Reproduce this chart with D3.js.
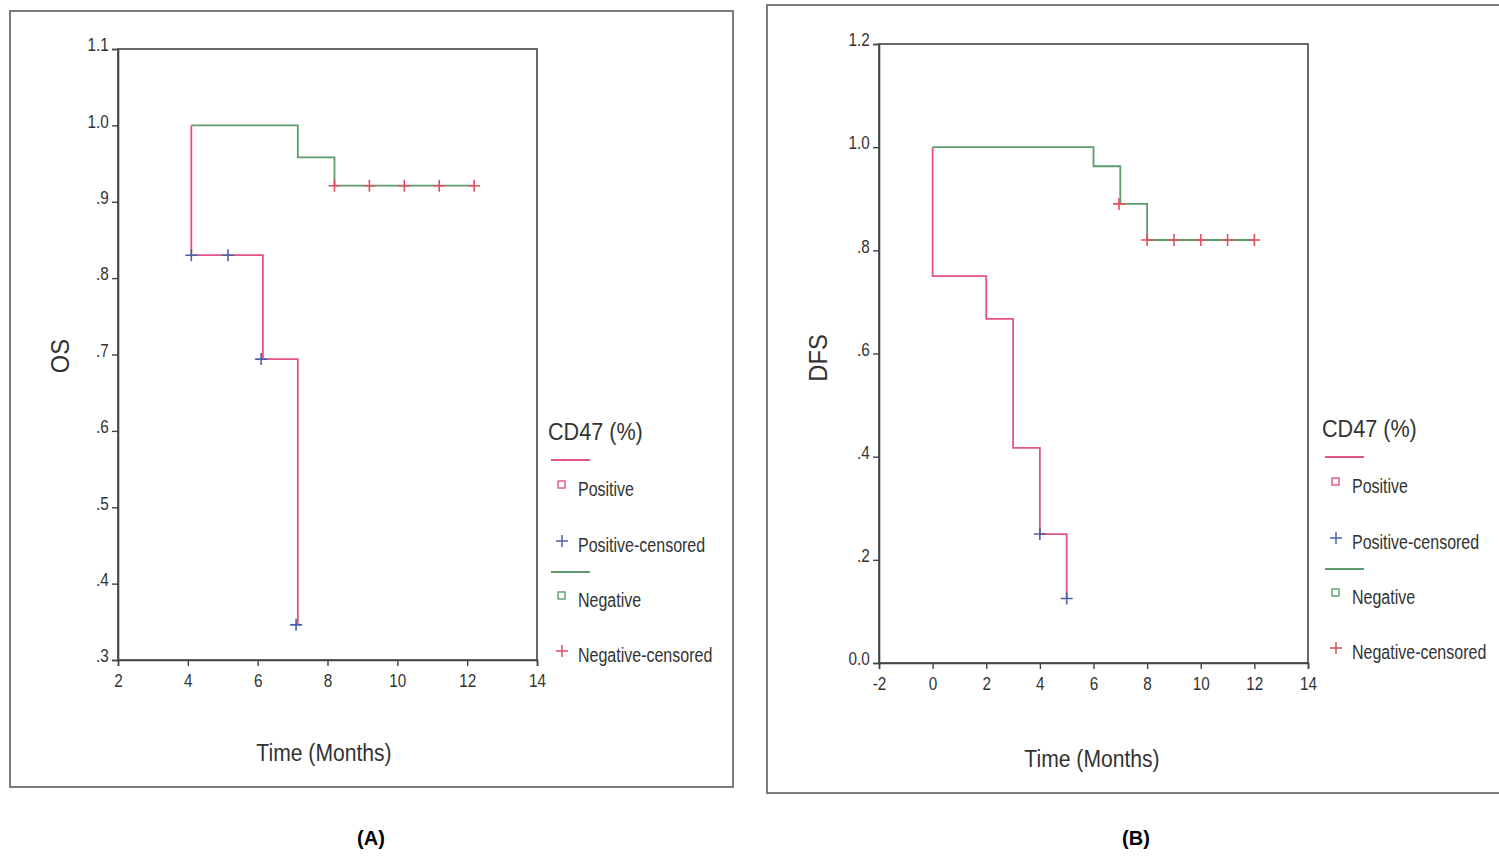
<!DOCTYPE html>
<html>
<head>
<meta charset="utf-8">
<script src="https://cdn.jsdelivr.net/npm/d3@7"></script>
<style>
    body { margin: 0; background: #fff; }
    svg { display: block; }
    .tick text { font-family: "Liberation Sans", Arial, sans-serif; font-size: 18px; fill: #333; }
    .lbl { font-family: "Liberation Sans", Arial, sans-serif; fill: #333; }
</style>
</head>
<body>
<svg id="chart" width="1499" height="856"></svg>
<script>
//  Panel A (OS) ---
var osPosTime = [4.1, 4.1, 6.15, 7.15];
var osPosSurv = [1.0, 0.83, 0.694, 0.346];
var osPosCensTime = [4.1, 5.15, 6.1, 7.1];
var osPosCensSurv = [0.83, 0.83, 0.694, 0.346];
var osNegTime = [4.1, 7.15, 8.2, 12.2];
var osNegSurv = [1.0, 0.958, 0.921, 0.921];
var osNegCensTime = [8.2, 9.2, 10.2, 11.2, 12.2];
var osNegCensSurv = [0.921, 0.921, 0.921, 0.921, 0.921];
var osXTicks = [2, 4, 6, 8, 10, 12, 14];
var osYTicks = [0.3, 0.4, 0.5, 0.6, 0.7, 0.8, 0.9, 1.0, 1.1];
var osYLabels = [".3", ".4", ".5", ".6", ".7", ".8", ".9", "1.0", "1.1"];

//  Panel B (DFS) ---
var dfsPosTime = [0, 0, 2, 3, 4, 5];
var dfsPosSurv = [1.0, 0.75, 0.667, 0.417, 0.25, 0.125];
var dfsPosCensTime = [4, 5];
var dfsPosCensSurv = [0.25, 0.125];
var dfsNegTime = [0, 6, 7, 8, 12];
var dfsNegSurv = [1.0, 0.963, 0.89, 0.82, 0.82];
var dfsNegCensTime = [6.95, 8, 9, 10, 11, 12];
var dfsNegCensSurv = [0.89, 0.82, 0.82, 0.82, 0.82, 0.82];
var dfsXTicks = [-2, 0, 2, 4, 6, 8, 10, 12, 14];
var dfsYTicks = [0, 0.2, 0.4, 0.6, 0.8, 1.0, 1.2];
var dfsYLabels = ["0.0", ".2", ".4", ".6", ".8", "1.0", "1.2"];

var legendTitle = "CD47 (%)";
var legendItems = ["Positive", "Positive-censored", "Negative", "Negative-censored"];

var colPos = "#e2538a", colNeg = "#5c9c6c", colPosCens = "#4a62a6", colNegCens = "#e0505e";

var zip = function (a, b) { return a.map(function (v, i) { return [v, b[i]]; }); };

var panels = [
    {
        frame: [10, 11, 733, 787], plot: { left: 118, top: 49, right: 537, bottom: 660 },
        xDomain: [2, 14], yDomain: [0.3, 1.1], xTicks: osXTicks, yTicks: osYTicks, yLabels: osYLabels,
        pos: zip(osPosTime, osPosSurv), posCens: zip(osPosCensTime, osPosCensSurv),
        neg: zip(osNegTime, osNegSurv), negCens: zip(osNegCensTime, osNegCensSurv),
        yTitle: "OS", yTitlePos: [69, 356], xTitlePos: [324, 761],
        legend: [548, 440], caption: "(A)", captionPos: [371, 845]
    },
    {
        frame: [767, 5, 1506, 793], plot: { left: 879, top: 44, right: 1308, bottom: 663 },
        xDomain: [-2, 14], yDomain: [0, 1.2], xTicks: dfsXTicks, yTicks: dfsYTicks, yLabels: dfsYLabels,
        pos: zip(dfsPosTime, dfsPosSurv), posCens: zip(dfsPosCensTime, dfsPosCensSurv),
        neg: zip(dfsNegTime, dfsNegSurv), negCens: zip(dfsNegCensTime, dfsNegCensSurv),
        yTitle: "DFS", yTitlePos: [827, 358], xTitlePos: [1092, 767],
        legend: [1322, 437], caption: "(B)", captionPos: [1136, 845]
    }
];

var svg = d3.select("#chart");

// squeezed text, the scan has a narrow sans
function narrowText(sel, tx, ty, size, sx, str, anchor, rot) {
    return sel.append("text").attr("class", "lbl")
        .attr("transform", "translate(" + tx + "," + ty + ")" + (rot ? " rotate(" + rot + ")" : "") + " scale(" + sx + ",1)")
        .attr("text-anchor", anchor || "start")
        .style("font-size", size + "px")
        .text(str);
}

panels.forEach(function (p) {
    var g = svg.append("g");

    //  Outer frame ---
    g.append("rect")
        .attr("x", p.frame[0]).attr("y", p.frame[1])
        .attr("width", p.frame[2] - p.frame[0]).attr("height", p.frame[3] - p.frame[1])
        .attr("fill", "none").attr("stroke", "#7a7a7a").attr("stroke-width", 2)
        ;

    var x = d3.scaleLinear().domain(p.xDomain).range([p.plot.left, p.plot.right]);
    var y = d3.scaleLinear().domain(p.yDomain).range([p.plot.bottom, p.plot.top]);

    //  Plot box ---
    g.append("rect")
        .attr("x", p.plot.left).attr("y", p.plot.top)
        .attr("width", p.plot.right - p.plot.left).attr("height", p.plot.bottom - p.plot.top)
        .attr("fill", "none").attr("stroke", "#444").attr("stroke-width", 1.6)
        ;

    //  Axes ---
    var xAxis = d3.axisBottom(x).tickValues(p.xTicks).tickSize(6).tickPadding(8)
        .tickFormat(function (d) { return String(d); });
    var gx = g.append("g").attr("transform", "translate(0," + p.plot.bottom + ")").call(xAxis);
    var yAxis = d3.axisLeft(y).tickValues(p.yTicks).tickSize(6).tickPadding(5)
        .tickFormat(function (d, i) { return p.yLabels[i]; });
    var gy = g.append("g").attr("transform", "translate(" + p.plot.left + ",0)").call(yAxis);
    [gx, gy].forEach(function (a) {
        a.select(".domain").attr("stroke", "#444").attr("stroke-width", 1.6);
        a.selectAll(".tick line").attr("stroke", "#444").attr("stroke-width", 1.4);
        a.selectAll(".tick text").attr("transform", "scale(0.85,1)");
    });
    gy.selectAll(".tick text").attr("dy", "0.1em");

    //  Step curves ---
    var line = d3.line()
        .x(function (d) { return x(d[0]); })
        .y(function (d) { return y(d[1]); })
        .curve(d3.curveStepAfter);
    g.append("path").datum(p.pos).attr("d", line)
        .attr("fill", "none").attr("stroke", colPos).attr("stroke-width", 1.8);
    g.append("path").datum(p.neg).attr("d", line)
        .attr("fill", "none").attr("stroke", colNeg).attr("stroke-width", 1.8);

    //  Censor marks ---
    var cross = function (sel, data, color) {
        sel.selectAll(null).data(data).enter().append("path")
            .attr("d", function (d) {
                var cx = x(d[0]), cy = y(d[1]);
                return "M" + (cx - 6) + "," + cy + "H" + (cx + 6) + "M" + cx + "," + (cy - 6) + "V" + (cy + 6);
            })
            .attr("stroke", color).attr("stroke-width", 1.6).attr("fill", "none");
    };
    cross(g, p.posCens, colPosCens);
    cross(g, p.negCens, colNegCens);

    //  Axis titles ---
    narrowText(g, p.yTitlePos[0], p.yTitlePos[1], 25, 0.95, p.yTitle, "middle", -90);
    narrowText(g, p.xTitlePos[0], p.xTitlePos[1], 24, 0.88, "Time (Months)", "middle");

    //  Legend ---
    var lg = g.append("g").attr("transform", "translate(" + p.legend[0] + "," + p.legend[1] + ")");
    narrowText(lg, 0, 0, 24, 0.9, legendTitle);
    var rows = [
        { line: colPos, lineY: 20 },
        { mark: "sq", color: colPos, y: 45, label: legendItems[0] },
        { mark: "+", color: colPosCens, y: 101, label: legendItems[1] },
        { line: colNeg, lineY: 132 },
        { mark: "sq", color: colNeg, y: 156, label: legendItems[2] },
        { mark: "+", color: colNegCens, y: 211, label: legendItems[3] }
    ];
    rows.forEach(function (r) {
        if (r.line) {
            lg.append("line").attr("x1", 3).attr("x2", 42).attr("y1", r.lineY).attr("y2", r.lineY)
                .attr("stroke", r.line).attr("stroke-width", 2);
            return;
        }
        if (r.mark === "sq") {
            lg.append("rect").attr("x", 10).attr("y", r.y - 4).attr("width", 7).attr("height", 7)
                .attr("fill", "none").attr("stroke", r.color).attr("stroke-width", 1.4);
        } else {
            lg.append("path").attr("d", "M8," + r.y + "H20M14," + (r.y - 6) + "V" + (r.y + 6))
                .attr("stroke", r.color).attr("stroke-width", 1.5);
        }
        narrowText(lg, 30, r.y + 11, 20, 0.8, r.label);
    });

    //  Caption ---
    svg.append("text")
        .attr("x", p.captionPos[0]).attr("y", p.captionPos[1])
        .attr("text-anchor", "middle")
        .style("font-family", "Liberation Sans, Arial, sans-serif")
        .style("font-weight", "bold").style("font-size", "20px").attr("fill", "#000")
        .text(p.caption);
});
</script>
</body>
</html>
